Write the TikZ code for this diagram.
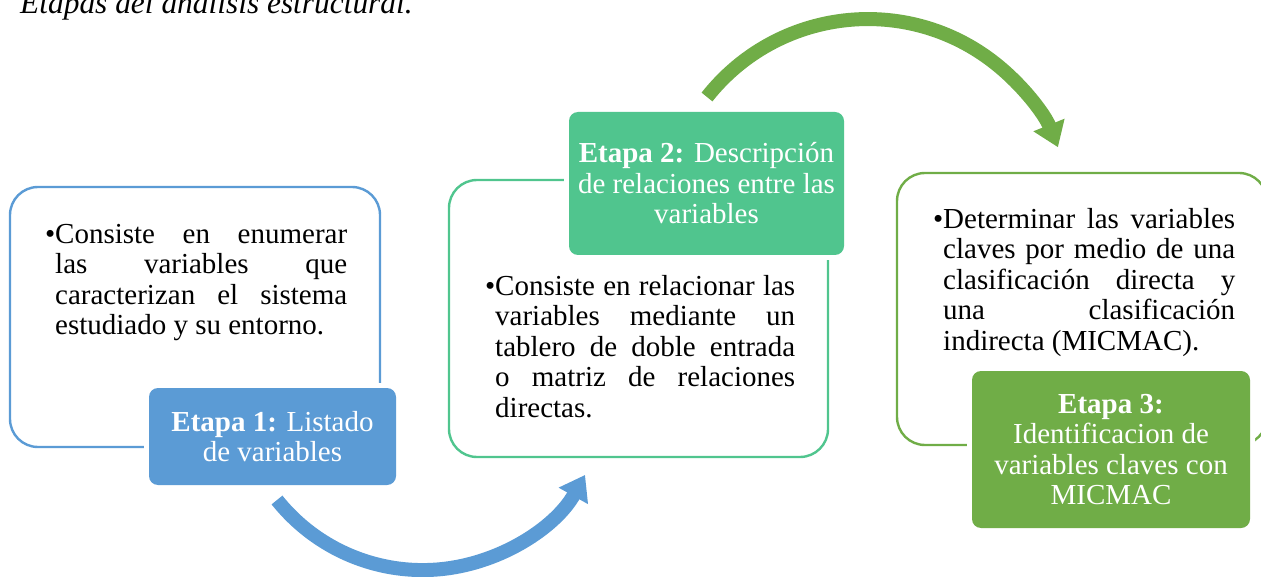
\documentclass[tikz,border=0pt]{standalone}
\usepackage{fontspec}
\setmainfont{Liberation Serif}
\usetikzlibrary{arrows.meta}
\definecolor{cblue}{HTML}{5B9BD5}
\definecolor{cteal}{RGB}{80,197,142}
\definecolor{cgreen}{HTML}{70AD47}
\newcommand\mystrut{\rule{0pt}{21pt}}
\newcommand\bodyfont{\fontsize{29}{30.5}\selectfont}
\hbadness=10000
\begin{document}
\begin{tikzpicture}[x=1pt,y=-1pt,
  boxline/.style={draw=#1, line width=2.4pt, rounded corners=28pt, inner sep=0pt},
  stagebox/.style={fill=#1, text=white, rounded corners=9pt, inner sep=0pt, align=center,
    font=\bodyfont, preaction={draw=white, line width=10pt}},
  bodytext/.style={anchor=north west, inner sep=0pt, text width=#1, align=justify, font=\bodyfont},
  bigarrow/.style={draw=#1, line width=14pt, -{Triangle[width=32pt,length=24pt]}}]
\useasboundingbox (0,0) rectangle (1261,577);
\clip (0,0) rectangle (1261,577);

\node[anchor=base west, inner sep=0pt, font=\fontsize{31.4}{36}\selectfont\itshape] (title) at (20,14) {Etapas del análisis estructural.};

% outline boxes
\node[boxline=cblue, minimum width=370pt, minimum height=260pt] (box1) at (195,317) {};
\node[boxline=cteal, minimum width=379pt, minimum height=277pt] (box2) at (638.5,318.5) {};
\node[boxline=cgreen, minimum width=370pt, minimum height=272pt] (box3) at (1082,309) {};

% stage labels
\node[stagebox=cblue, minimum width=247pt, minimum height=97pt] (lab1) at (272.5,436.5)
  {\textbf{Etapa 1:} Listado\\de variables};
\node[stagebox=cteal, minimum width=275pt, minimum height=143pt] (lab2) at (706.5,183.5)
  {\textbf{Etapa 2:} Descripción\\de relaciones entre las\\variables};
\node[stagebox=cgreen, minimum width=278pt, minimum height=157pt] (lab3) at (1111,449.5)
  {\textbf{Etapa 3:}\\Identificacion de\\variables claves con\\MICMAC};

% body texts
\node[bodytext=292pt] (t1) at (55,222) {\noindent\mystrut\llap{•}Consiste en enumerar\linebreak las variables que\linebreak caracterizan el sistema\linebreak estudiado y su entorno.};
\node[bodytext=300pt] (t2) at (495,274) {\noindent\mystrut\llap{•}Consiste en relacionar las\linebreak variables mediante un\linebreak tablero de doble entrada\linebreak o matriz de relaciones\linebreak directas.};
\node[bodytext=292pt] (t3) at (943,207) {\noindent\mystrut\llap{•}Determinar las variables\linebreak claves por medio de una\linebreak clasificación directa y\linebreak una clasificación\linebreak indirecta (MICMAC).};

% circular arrows
\coordinate (a1s) at (277,500);
\draw[bigarrow=cblue] (a1s) arc[start angle=141.4, end angle=29.3, radius=186.3];
\coordinate (a2s) at (707,97);
\draw[bigarrow=cgreen] (a2s) arc[start angle=218.3, end angle=338, radius=205];
\end{tikzpicture}
\end{document}
